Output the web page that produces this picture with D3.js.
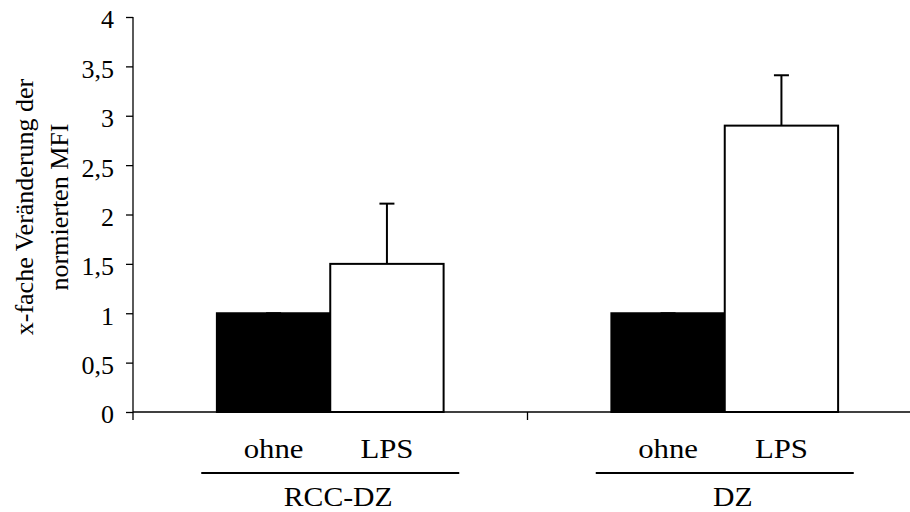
<!DOCTYPE html>
<html>
<head>
<meta charset="utf-8">
<script src="https://cdn.jsdelivr.net/npm/d3@7/dist/d3.min.js"></script>
<style>
  html, body { margin: 0; padding: 0; background: #fff; }
  svg { display: block; }
  text { font-family: "Liberation Serif", "Times New Roman", serif; fill: #000; }
</style>
</head>
<body>
<svg id="chart" width="910" height="512"></svg>
<script>
// Zelltypen (Gruppen) und Stimulation (Balken je Gruppe)
const groups = ["RCC-DZ", "DZ"];
const conditions = ["ohne", "LPS"];
// x-fache Veränderung der normierten MFI
const ohneValues = [1.0, 1.0];
const lpsValues = [1.5, 2.9];
// Standardabweichung (nur nach oben gezeichnet)
const ohneErrors = [0.0, 0.0];
const lpsErrors = [0.61, 0.51];
const yTicks = [0, 0.5, 1, 1.5, 2, 2.5, 3, 3.5, 4];
const yTitle = ["x-fache Veränderung der", "normierten MFI"];

const FONT = "'Liberation Serif', 'Times New Roman', serif";

const rows = groups.map((g, i) => ({
  group: g,
  bars: [
    { cond: "ohne", value: ohneValues[i], err: ohneErrors[i], fill: "#000" },
    { cond: "LPS", value: lpsValues[i], err: lpsErrors[i], fill: "#fff" }
  ]
}));

const svg = d3.select("#chart");

const y = d3.scaleLinear().domain([0, 4]).range([412, 17]);
const x0 = d3.scaleBand().domain(groups).range([133, 922]).paddingInner(0).paddingOuter(0);
const x1 = d3.scaleBand().domain(conditions).range([0, x0.bandwidth()])
  .paddingInner(0).paddingOuter(0.74);

// Bars
const grp = svg.append("g").selectAll("g.grp").data(rows).join("g")
  .attr("class", "grp")
  .attr("transform", d => `translate(${x0(d.group)},0)`);

grp.selectAll("rect").data(d => d.bars).join("rect")
  .attr("x", d => x1(d.cond))
  .attr("y", d => y(d.value))
  .attr("width", x1.bandwidth())
  .attr("height", d => y(0) - y(d.value))
  .attr("fill", d => d.fill)
  .attr("stroke", "#000")
  .attr("stroke-width", 2);

// Error bars (upper whisker with cap)
const cx = d => x1(d.cond) + x1.bandwidth() / 2;
const eb = grp.selectAll("g.err").data(d => d.bars).join("g").attr("class", "err");
eb.append("line")
  .attr("x1", cx).attr("x2", cx)
  .attr("y1", d => y(d.value))
  .attr("y2", d => y(d.value + d.err))
  .attr("stroke", "#000").attr("stroke-width", 2);
eb.append("line")
  .attr("x1", d => cx(d) - 7.5)
  .attr("x2", d => cx(d) + 7.5)
  .attr("y1", d => y(d.value + d.err))
  .attr("y2", d => y(d.value + d.err))
  .attr("stroke", "#000").attr("stroke-width", 2);

// Y axis
const yAxis = d3.axisLeft(y).tickValues(yTicks).tickSize(7).tickPadding(12)
  .tickFormat(d => String(d).replace(".", ","));
const ya = svg.append("g").attr("transform", "translate(133,0)").call(yAxis)
  .attr("font-family", null).attr("font-size", null);
ya.select(".domain").remove();
ya.append("line").attr("x1", 0).attr("x2", 0).attr("y1", y(4)).attr("y2", y(0) + 8)
  .attr("stroke", "#000").attr("stroke-width", 1.3);
ya.selectAll(".tick line").attr("stroke", "#000").attr("stroke-width", 1.3);
ya.selectAll(".tick text")
  .attr("dy", "0.42em")
  .style("font-family", FONT)
  .style("font-size", "26px")
  .attr("fill", "#000");

// X axis line with group separators
const xa = svg.append("g");
xa.append("line").attr("x1", 133).attr("x2", 922).attr("y1", y(0)).attr("y2", y(0))
  .attr("stroke", "#000").attr("stroke-width", 1.5);
xa.selectAll("line.sep").data(groups.slice(1)).join("line").attr("class", "sep")
  .attr("x1", d => x0(d)).attr("x2", d => x0(d))
  .attr("y1", y(0)).attr("y2", y(0) + 8)
  .attr("stroke", "#000").attr("stroke-width", 1.3);

// Condition labels, underline and group labels
const lab = svg.append("g").selectAll("g").data(rows).join("g")
  .attr("transform", d => `translate(${x0(d.group)},0)`);

lab.selectAll("text.cond").data(d => d.bars).join("text").attr("class", "cond")
  .attr("transform", d => `translate(${cx(d)},458) scale(1.1,1)`)
  .attr("text-anchor", "middle")
  .style("font-family", FONT)
  .style("font-size", "28px")
  .text(d => d.cond);

lab.append("line")
  .attr("x1", x0.bandwidth() / 2 - 129)
  .attr("x2", x0.bandwidth() / 2 + 129)
  .attr("y1", 473).attr("y2", 473)
  .attr("stroke", "#000").attr("stroke-width", 2);

lab.append("text")
  .attr("transform", `translate(${x0.bandwidth() / 2 + 8},506) scale(1.1,1)`)
  .attr("text-anchor", "middle")
  .style("font-family", FONT)
  .style("font-size", "27px")
  .text(d => d.group);

// Y axis title (two lines, rotated)
svg.append("g").selectAll("text").data(yTitle).join("text")
  .attr("transform", (d, i) => `translate(${33 + i * 35},207) rotate(-90)`)
  .attr("text-anchor", "middle")
  .style("font-family", FONT)
  .style("font-size", "26px")
  .text(d => d);
</script>
</body>
</html>
